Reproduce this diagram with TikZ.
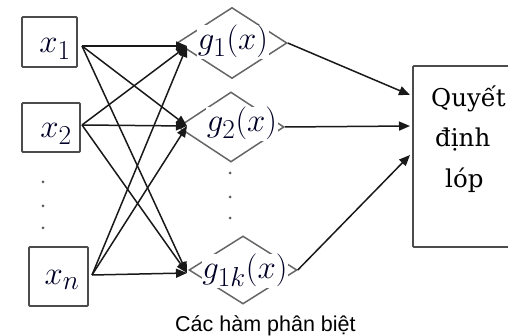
\documentclass[tikz,border=0pt]{standalone}
\usepackage{fontspec}
\newfontfamily\dvs{DejaVu Serif}
\newfontfamily\lsans{Liberation Sans}
\usetikzlibrary{shapes.geometric,arrows.meta}
\begin{document}
\begin{tikzpicture}[x=1pt,y=-1pt,
  inbox/.style={draw=black!70,line width=1.9pt,rounded corners=1pt,inner sep=0pt},
  gdiam/.style={draw=black!60,line width=1.5pt,diamond,inner sep=0pt},
  conn/.style={line width=1.5pt,black!90,-{Triangle[length=11pt,width=9pt]}},
  mlabel/.style={inner sep=0.5pt,fill=white,scale=1.32,font=\Huge,anchor=base,text=black!85!blue},
  dotn/.style={circle,fill=black!65,inner sep=0pt,minimum size=3pt},
  dtext/.style={font=\dvs\fontsize{24.5}{30}\selectfont,anchor=base west,inner sep=0pt},
]
\useasboundingbox (0,0) rectangle (508,336);

% input boxes
\node[inbox,minimum width=55pt,minimum height=50pt] (x1) at (49.5,42) {};
\node[inbox,minimum width=58pt,minimum height=49pt] (x2) at (51,127.5) {};
\node[inbox,minimum width=59pt,minimum height=59pt] (xn) at (58.5,276.5) {};
\node[mlabel,fill=none] (lx1) at (55,53) {$x_1$};
\node[mlabel,fill=none] (lx2) at (56,138) {$x_2$};
\node[mlabel,fill=none] (lxn) at (62,285) {$x_n$};

% dots left
\node[dotn] (dl1) at (43,182) {};
\node[dotn] (dl2) at (43,206) {};
\node[dotn] (dl3) at (43,228) {};

% diamonds
\node[gdiam,minimum width=110pt,minimum height=71pt] (g1) at (232,43) {};
\node[gdiam,minimum width=106pt,minimum height=70pt] (g2) at (231,127) {};
\node[gdiam,minimum width=108pt,minimum height=68pt] (gk) at (243,270) {};

% dots middle
\node[dotn] (dm1) at (230,173) {};
\node[dotn] (dm2) at (230,197) {};
\node[dotn] (dm3) at (230,218) {};

% decision box
\node[inbox,minimum width=117pt,minimum height=181pt] (D) at (471.5,156.5) {};
\node[dtext] (t1) at (431,107) {Quyết};
\node[dtext] (t2) at (435,147) {định};
\node[dtext] (t3) at (445,188) {lóp};

% connector endpoints
\coordinate (s1) at (82,46);
\coordinate (s2) at (82,125);
\coordinate (sn) at (92,275);
\coordinate (e1) at (187,46);
\coordinate (e2) at (187,126);
\coordinate (ek) at (187,273);
\coordinate (d1) at (410,95);
\coordinate (d2) at (410,126);
\coordinate (d3) at (410,155);

\foreach \s in {s1,s2,sn}{
  \foreach \e in {e1,e2,ek}{
    \draw[conn] (\s) -- (\e);
  }
}

\draw[conn] (g1.east) -- (d1);
\draw[conn] (g2.east) -- (d2);
\draw[conn] (gk.east) -- (d3);

% labels on diamonds
\node[mlabel] (lg1) at (233,50) {$g_1(x)$};
\node[mlabel] (lg2) at (242,132) {$g_2(x)$};
\node[mlabel] (lgk) at (245,279) {$g_{1k}(x)$};

% caption
\node[font=\lsans\fontsize{21.5}{25}\selectfont,anchor=base west,inner sep=0pt] (cap) at (175,331) {Các hàm phân biệt};
\end{tikzpicture}
\end{document}
